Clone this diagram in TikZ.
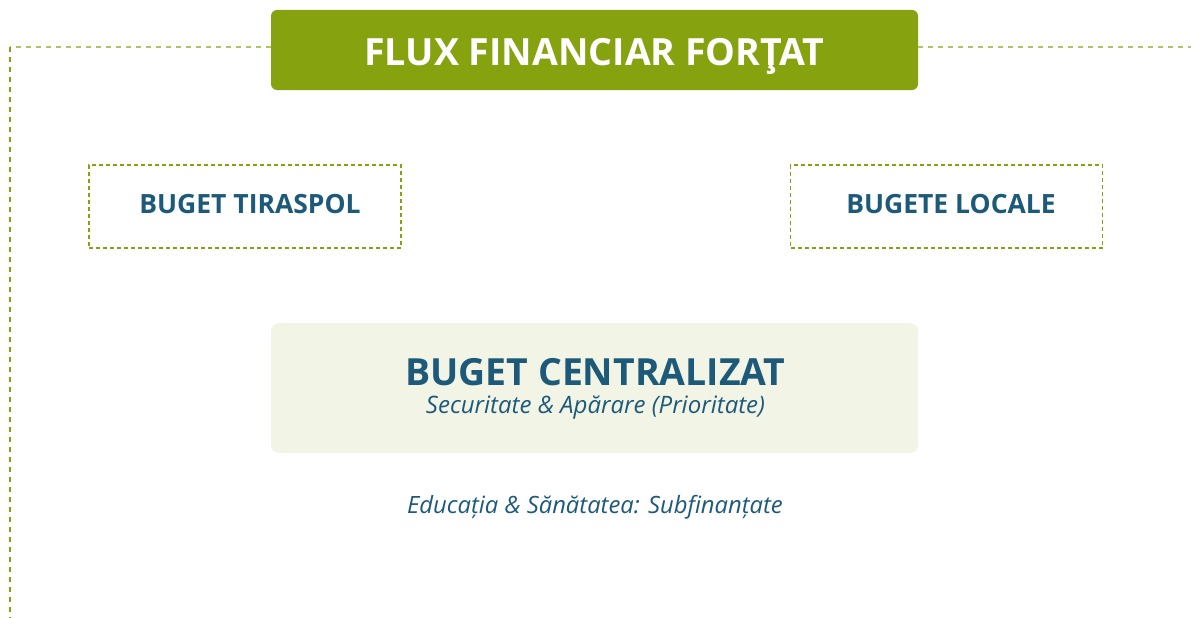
\documentclass[tikz,border=0pt]{standalone}
\usepackage{fontspec}
\setmainfont{Open Sans}
\definecolor{olive}{HTML}{87A20F}
\definecolor{lightolive}{HTML}{B0C466}
\definecolor{navy}{HTML}{1D5A7A}
\definecolor{paper}{HTML}{F2F4E6}
\begin{document}
\begin{tikzpicture}[x=1pt,y=-1pt,
  titlebox/.style={fill=olive,rounded corners=6pt,minimum width=647pt,minimum height=80pt,inner sep=0pt,text=white,font=\bfseries\fontsize{37.5}{42}\selectfont},
  sidebox/.style={draw=olive,dash pattern=on 4pt off 3pt,line width=1.1pt,minimum width=312pt,minimum height=83pt,inner sep=0pt,text=navy,font=\bfseries\fontsize{26.5}{30}\selectfont},
  centralbox/.style={fill=paper,rounded corners=8pt,minimum width=647pt,minimum height=130pt,inner sep=0pt},
  guide/.style={line width=1.2pt,dash pattern=on 5pt off 5pt}]
\useasboundingbox (0,0) rectangle (1191,618);
\node[titlebox] (title) at (594.5,50) {\raisebox{-16pt}[0pt][0pt]{FLUX FINANCIAR FORŢAT}};
\coordinate (corner) at (10,47);
\coordinate (bottom) at (10,618);
\coordinate (rightend) at (1191,47);
\draw[guide,draw=lightolive] (title.west |- corner) -- (corner);
\draw[guide,draw=olive] (corner) -- (bottom);
\draw[guide,draw=lightolive] (title.east |- corner) -- (rightend);
\node[sidebox] (tiraspol) at (245,206.5) {\hspace*{10pt}\raisebox{-6.8pt}[0pt][0pt]{BUGET TIRASPOL}};
\node[sidebox] (locale) at (946.5,206.5) {\hspace*{9pt}\raisebox{-6.8pt}[0pt][0pt]{BUGETE LOCALE}};
\node[centralbox] (central) at (594.5,388) {};
\node[anchor=base,text=navy,font=\bfseries\fontsize{37.4}{42}\selectfont] (ctitle) at (595.5,385) {BUGET CENTRALIZAT};
\node[anchor=base,text=navy,font=\itshape\fontsize{24}{28}\selectfont] (csub) at (595.5,413.3) {Securitate \& Apărare (Prioritate)};
\node[anchor=base,text=navy,font=\itshape\fontsize{23.8}{28}\selectfont] (note) at (595,513.3) {Educația \& Sănătatea: Subfinanțate};
\end{tikzpicture}
\end{document}
